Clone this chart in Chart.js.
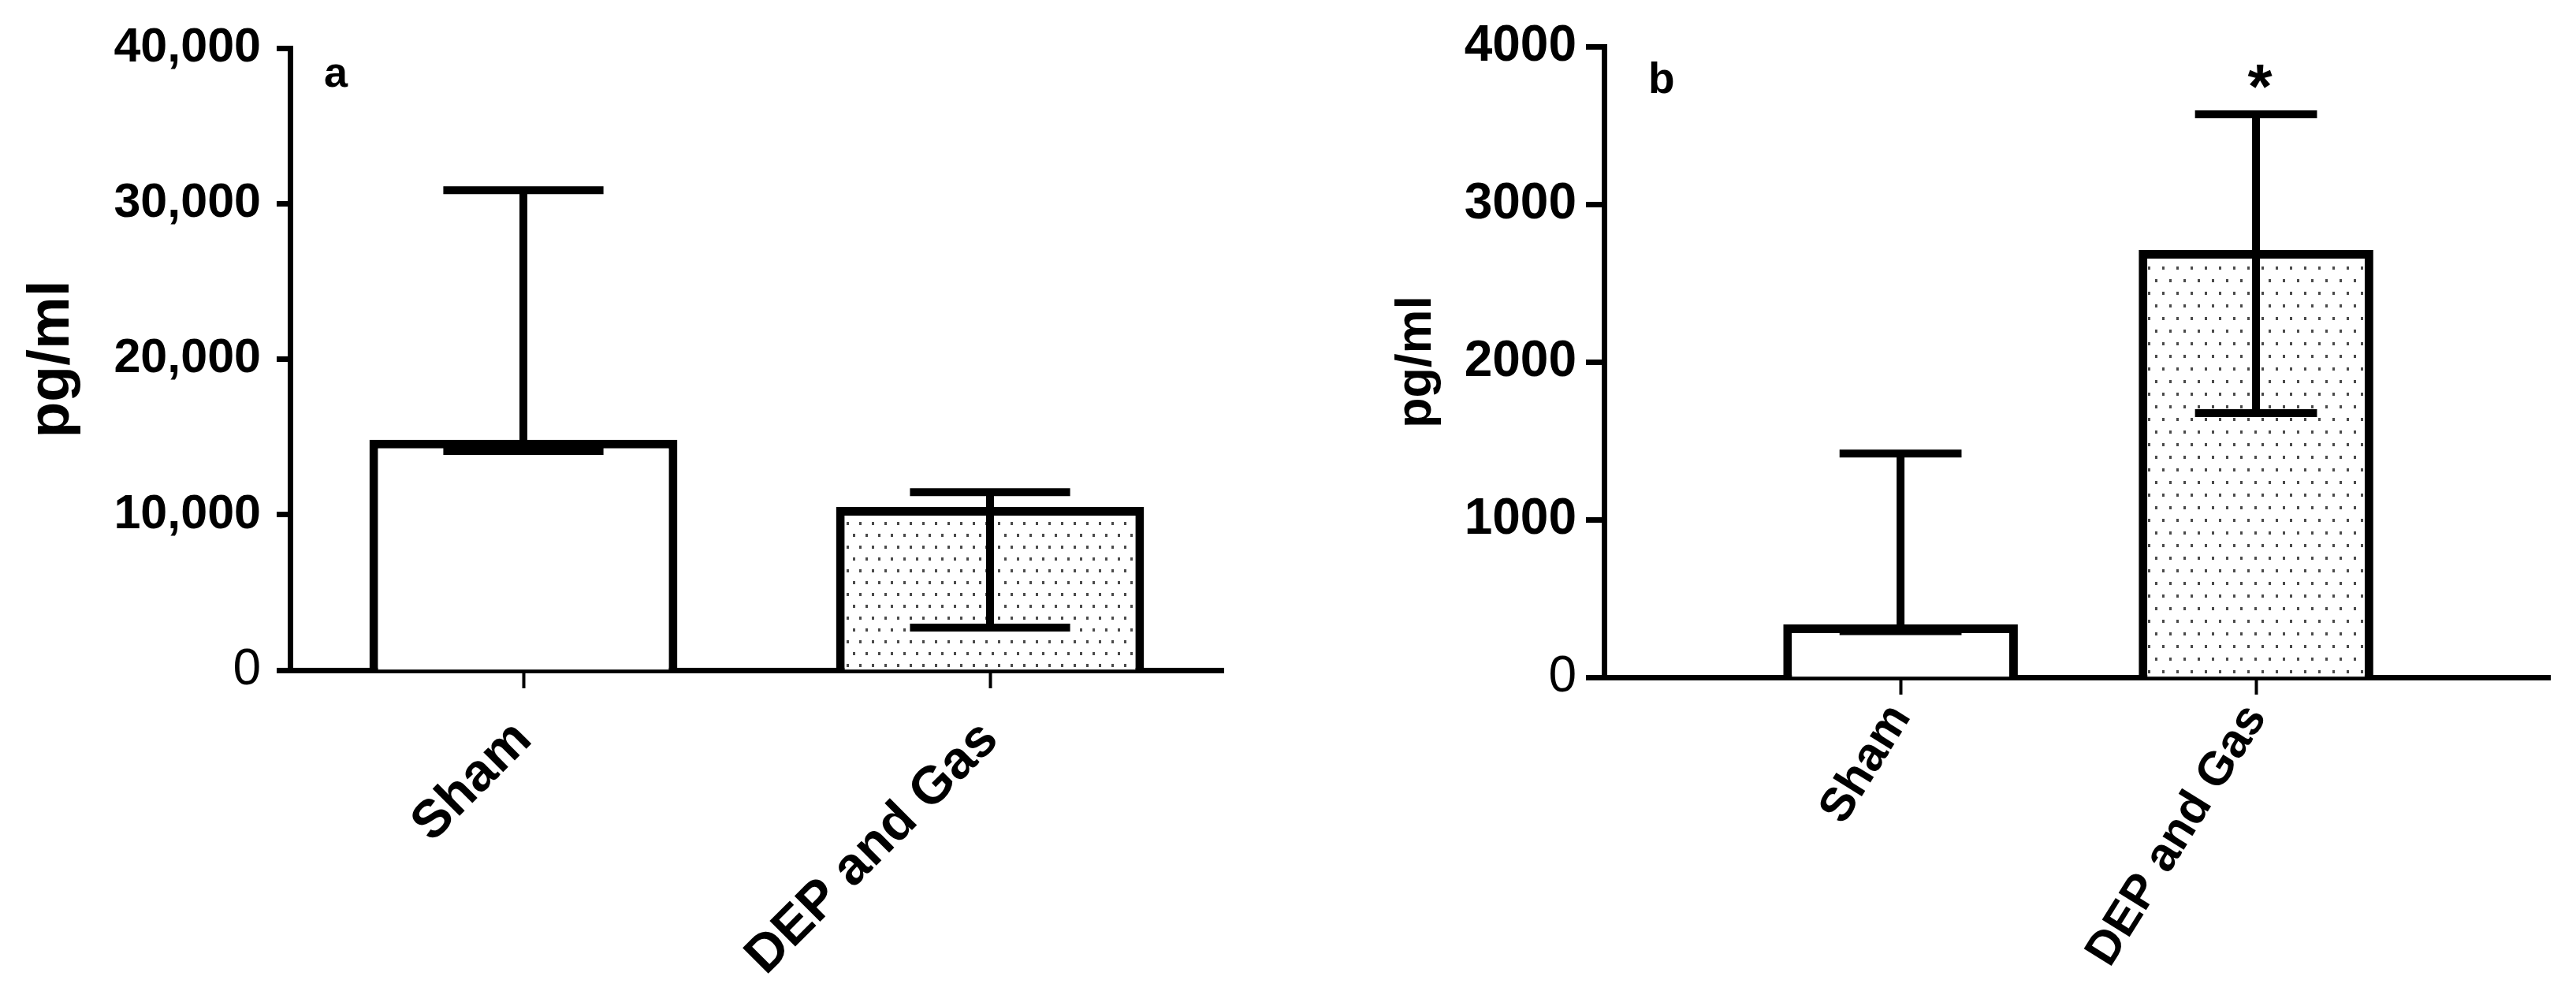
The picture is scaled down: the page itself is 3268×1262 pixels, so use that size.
<!DOCTYPE html>
<html><head><meta charset="utf-8">
<script src="https://cdn.jsdelivr.net/npm/chart.js@4.4.1/dist/chart.umd.min.js"></script>
<style>
html,body{margin:0;padding:0;background:#fff;}
#wrap{position:relative;width:3268px;height:1262px;background:#fff;}
.pane{position:absolute;top:0;width:1634px;height:1262px;}
#pa{left:0;}
#pb{left:1634px;}
</style></head><body>
<div id="wrap">
<div class="pane" id="pa"><canvas id="ca" width="1634" height="1262"></canvas></div>
<div class="pane" id="pb"><canvas id="cb" width="1634" height="1262"></canvas></div>
</div>
<script>
// ---- data ----
const categories = ['Sham', 'DEP and Gas'];
const meanA = [14820, 10500];
const errHighA = [30860, 11450];
const errLowA = [14090, 2740];
const yTicksA = [0, 10000, 20000, 30000, 40000];
const meanB = [335, 2710];
const errHighB = [1419, 3570];
const errLowB = [292, 1675];
const yTicksB = [0, 1000, 2000, 3000, 4000];
const markB = ['', '*'];
const panelLetters = ['a', 'b'];
const yTitle = 'pg/ml';

const FAM = '"Liberation Sans", Arial, Helvetica, sans-serif';

function dotPattern(ctx, w, h) {
  const c = document.createElement('canvas');
  c.width = w; c.height = h;
  const g = c.getContext('2d');
  g.fillStyle = '#fff'; g.fillRect(0, 0, w, h);
  g.fillStyle = '#4a4a4a';
  g.fillRect(2, 2, 3, 4);
  g.fillRect(2 + w / 2, 2 + h / 2, 3, 4);
  return ctx.createPattern(c, 'repeat');
}

const errPlugin = {
  id: 'errbars',
  afterDatasetsDraw(chart, args, opts) {
    const ctx = chart.ctx;
    const meta = chart.getDatasetMeta(0);
    const ys = chart.scales.y;
    ctx.save();
    ctx.strokeStyle = '#000';
    ctx.lineWidth = opts.lineWidth;
    ctx.lineCap = 'butt';
    meta.data.forEach((el, i) => {
      const x = el.x;
      const hw = el.width * opts.capFrac / 2;
      const yh = ys.getPixelForValue(opts.high[i]);
      const yl = ys.getPixelForValue(opts.low[i]);
      ctx.beginPath();
      ctx.moveTo(x, yh); ctx.lineTo(x, yl);
      ctx.moveTo(x - hw, yh); ctx.lineTo(x + hw, yh);
      ctx.moveTo(x - hw, yl); ctx.lineTo(x + hw, yl);
      ctx.stroke();
      if (opts.marks && opts.marks[i]) {
        ctx.fillStyle = '#000';
        ctx.font = 'bold ' + opts.markSize + 'px ' + FAM;
        ctx.textAlign = 'center';
        ctx.textBaseline = 'alphabetic';
        ctx.fillText(opts.marks[i], x + 5, yh - opts.markGap);
      }
    });
    const ca = chart.chartArea;
    ctx.fillStyle = '#000';
    ctx.font = 'bold ' + opts.letterSize + 'px ' + FAM;
    ctx.textAlign = 'left';
    ctx.textBaseline = 'alphabetic';
    ctx.fillText(opts.letter, ca.left + opts.letterDx, ca.top + opts.letterDy);
    ctx.restore();
  }
};

function makeChart(id, cfg) {
  const canvas = document.getElementById(id);
  const ctx = canvas.getContext('2d');
  const pat = dotPattern(ctx, cfg.patW, cfg.patH);
  return new Chart(ctx, {
    type: 'bar',
    data: {
      datasets: [{
        data: cfg.mean.map((v, i) => ({x: i, y: v})),
        backgroundColor: ['#ffffff', pat],
        borderColor: '#000',
        borderWidth: cfg.barBorder,
        barPercentage: 0.66,
        categoryPercentage: 1
      }]
    },
    options: {
      responsive: false,
      devicePixelRatio: 1,
      animation: false,
      events: [],
      layout: {padding: {left: 0, top: cfg.padTop, right: cfg.padRight, bottom: 0}},
      plugins: {
        legend: {display: false},
        tooltip: {enabled: false},
        errbars: {
          high: cfg.high, low: cfg.low, lineWidth: 10, capFrac: 0.52,
          marks: cfg.marks, markSize: 80, markGap: 8,
          letter: cfg.letter, letterSize: cfg.letterSize, letterDx: cfg.letterDx, letterDy: cfg.letterDy
        }
      },
      scales: {
        x: {
          type: 'linear',
          offset: false,
          min: cfg.xMin, max: cfg.xMax,
          z: 1,
          afterBuildTicks: s => { s.ticks = categories.map((c, i) => ({value: i})); },
          afterFit: s => { s.height = cfg.xH; },
          ticks: {
            autoSkip: false,
            callback: v => categories[v],
            minRotation: cfg.rot, maxRotation: cfg.rot,
            padding: cfg.xPad,
            color: '#000',
            font: {family: FAM, size: cfg.xFont, weight: 'bold'}
          },
          grid: {display: true, offset: false, drawOnChartArea: false, drawTicks: true,
                 tickLength: cfg.xTickLen, tickWidth: 4, tickColor: '#000'},
          border: {display: true, color: '#000', width: 7}
        },
        y: {
          type: 'linear',
          min: cfg.yTicks[0], max: cfg.yTicks[cfg.yTicks.length - 1],
          z: 1,
          afterBuildTicks: s => { s.ticks = cfg.yTicks.map(v => ({value: v})); },
          afterFit: s => { s.width = cfg.yW; },
          ticks: {
            callback: v => cfg.fmt(v),
            padding: cfg.yPad,
            color: '#000',
            font: c => (c.tick && c.tick.value === 0)
              ? {family: FAM, size: 64, weight: 'normal'}
              : {family: FAM, size: cfg.yFont, weight: 'bold'}
          },
          grid: {display: true, drawOnChartArea: false, drawTicks: true,
                 tickLength: cfg.yTickLen, tickWidth: 7, tickColor: '#000'},
          border: {display: true, color: '#000', width: 7},
          title: {display: true, text: yTitle, color: '#000',
                  font: {family: FAM, size: cfg.titleSize, weight: 'bold'},
                  padding: {top: cfg.titlePad, bottom: 0}}
        }
      }
    },
    plugins: [errPlugin]
  });
}

makeChart('ca', {
  mean: meanA, high: errHighA, low: errLowA, yTicks: yTicksA, marks: null,
  fmt: v => v.toLocaleString('en-US'),
  xMin: -0.5, xMax: 1.5, padTop: 61, padRight: 82, xH: 412, yW: 368,
  rot: 45, xPad: 26, xFont: 67, xTickLen: 23,
  yPad: 20, yFont: 61, yTickLen: 17,
  titleSize: 75, titlePad: 21,
  barBorder: 11, patW: 16, patH: 30,
  letter: panelLetters[0], letterSize: 54, letterDx: 43, letterDy: 49
});

makeChart('cb', {
  mean: meanB, high: errHighB, low: errLowB, yTicks: yTicksB, marks: markB,
  fmt: v => String(v),
  xMin: -0.834, xMax: 1.827, padTop: 59, padRight: 33, xH: 403, yW: 401,
  rot: 58, xPad: 0, xFont: 60, xTickLen: 22,
  yPad: 12, yFont: 64, yTickLen: 23,
  titleSize: 63, titlePad: 126,
  barBorder: 11, patW: 18, patH: 32,
  letter: panelLetters[1], letterSize: 55, letterDx: 56, letterDy: 59
});
</script>
</body></html>
